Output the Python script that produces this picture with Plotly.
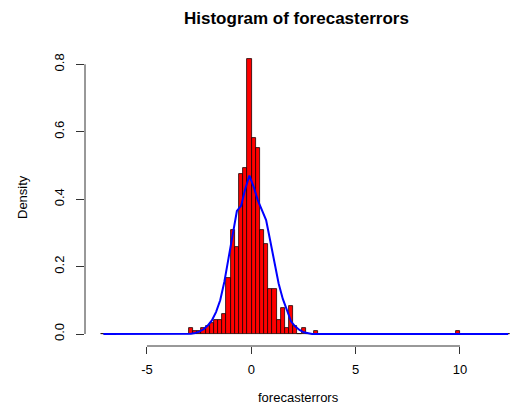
import plotly.graph_objects as go

# ---- data ----
bin_start = -7.19          # first histogram break
bin_width = 0.2            # histogram bin size
# density of each histogram bin (98 bins)
hist_density = ([0] * 21 +
                [0.017, 0.008, 0.008, 0.017, 0.025, 0.033, 0.042, 0.042, 0.058, 0.167,
                 0.308, 0.258, 0.475, 0.492, 0.815, 0.582, 0.551, 0.308, 0.267, 0.134,
                 0.134, 0.042, 0.076, 0.017, 0.083, 0.025, 0, 0.017, 0, 0, 0.008] +
                [0] * 33 + [0.008] + [0] * 12)
# density of the overlaid normal sample at each bin mid (98 bins)
norm_density = ([0] * 21 +
                [0.001, 0.003, 0.007, 0.014, 0.025, 0.040, 0.065, 0.100, 0.155, 0.225,
                 0.295, 0.365, 0.380, 0.430, 0.470, 0.437, 0.397, 0.366, 0.338, 0.276,
                 0.212, 0.150, 0.104, 0.067, 0.037, 0.022, 0.012, 0.005, 0.002] +
                [0] * 48)

x_ticks = [-5, 0, 5, 10]
x_ticklabels = ["-5", "0", "5", "10"]
y_ticks = [0.0, 0.2, 0.4, 0.6, 0.8]
y_ticklabels = ["0.0", "0.2", "0.4", "0.6", "0.8"]

title_text = "Histogram of forecasterrors"
x_label = "forecasterrors"
y_label = "Density"

# ---- derived ----
mids = [bin_start + bin_width * (i + 0.5) for i in range(len(hist_density))]

FONT = "Liberation Sans, Arial, Helvetica, sans-serif"

fig = go.Figure()
fig.add_trace(go.Bar(
    x=mids, y=hist_density, width=bin_width,
    marker=dict(color="#FF0000", line=dict(color="#1a0000", width=0.8)),
    showlegend=False, hoverinfo="skip"))
fig.add_trace(go.Scatter(
    x=mids, y=norm_density, mode="lines",
    line=dict(color="#0000FF", width=2),
    showlegend=False, hoverinfo="skip"))

# R-style axis lines spanning first to last tick
fig.add_shape(type="line", xref="x", yref="paper",
              x0=min(x_ticks), x1=max(x_ticks), y0=0, y1=0,
              line=dict(color="#333333", width=1))
fig.add_shape(type="line", xref="paper", yref="y",
              x0=0, x1=0, y0=min(y_ticks), y1=max(y_ticks),
              line=dict(color="#333333", width=1))

fig.update_layout(
    width=511, height=405,
    margin=dict(l=85, r=0, t=48, b=59),
    paper_bgcolor="white", plot_bgcolor="white",
    font=dict(family=FONT, size=12, color="black"),
    bargap=0,
    xaxis=dict(range=[-7.968, 12.444], tickvals=x_ticks, ticktext=x_ticklabels,
               ticks="outside", ticklen=7, tickcolor="#333333", tickwidth=1,
               showgrid=False, zeroline=False, showline=False,
               tickfont=dict(size=13), ticklabelstandoff=4),
    yaxis=dict(range=[-0.0356, 0.8484], tickvals=y_ticks, ticktext=y_ticklabels,
               ticks="outside", ticklen=8, tickcolor="#333333", tickwidth=1,
               showgrid=False, zeroline=False, showline=False,
               tickangle=-90, tickfont=dict(size=13), ticklabelstandoff=7),
    annotations=[
        dict(text="<b>" + title_text + "</b>", xref="paper", yref="paper",
             x=0.497, y=(346 - 18) / 298, xanchor="center", yanchor="middle",
             showarrow=False, font=dict(size=17, family=FONT)),
        dict(text=x_label, xref="paper", yref="paper",
             x=0.5, y=(346 - 397) / 298, xanchor="center", yanchor="middle",
             showarrow=False, font=dict(size=13, family=FONT)),
        dict(text=y_label, xref="paper", yref="paper",
             x=(22 - 85) / 426, y=0.5, xanchor="center", yanchor="middle",
             textangle=-90, showarrow=False, font=dict(size=13, family=FONT)),
    ],
)

fig.write_html("out.html")
